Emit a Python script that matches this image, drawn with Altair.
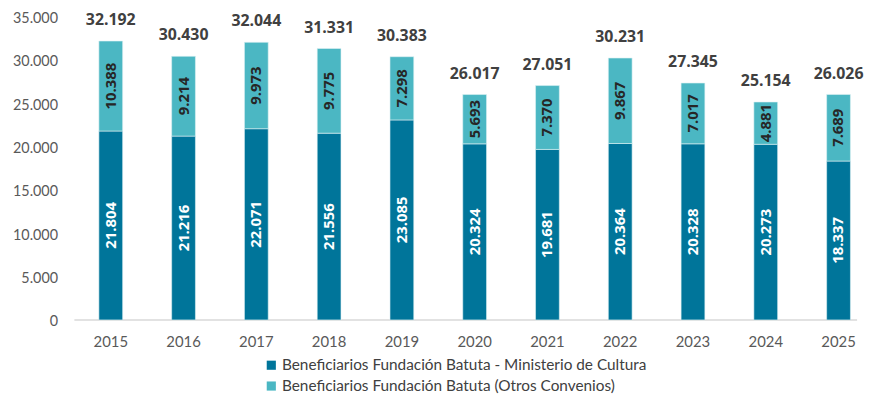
import altair as alt
import pandas as pd

anios = ["2015", "2016", "2017", "2018", "2019", "2020", "2021", "2022", "2023", "2024", "2025"]
ministerio = [21804, 21216, 22071, 21556, 23085, 20324, 19681, 20364, 20328, 20273, 18337]
otros = [10388, 9214, 9973, 9775, 7298, 5693, 7370, 9867, 7017, 4881, 7689]
totales = [32192, 30430, 32044, 31331, 30383, 26017, 27051, 30231, 27345, 25154, 26026]

serie_min = "Beneficiarios Fundación Batuta - Ministerio de Cultura"
serie_otr = "Beneficiarios Fundación Batuta (Otros Convenios)"
colores = ["#00759A", "#4BB7C3"]


def fmt(v):
    return f"{v:,}".replace(",", ".")


rows = []
for a, m, o in zip(anios, ministerio, otros):
    rows.append({"anio": a, "serie": serie_min, "valor": m, "orden": 0, "etiqueta": fmt(m)})
    rows.append({"anio": a, "serie": serie_otr, "valor": o, "orden": 1, "etiqueta": fmt(o)})
df = pd.DataFrame(rows)
df_tot = pd.DataFrame({"anio": anios, "total": totales, "etiqueta": [fmt(t) for t in totales]})

W = 790
H = 306

xscale = alt.Scale(domain=anios, range=[0, 808], paddingInner=0, paddingOuter=0)
yscale = alt.Scale(domain=[0, 35000], nice=False)

x_enc = alt.X("anio:N", scale=xscale, sort=anios,
              axis=alt.Axis(title=None, domain=False, ticks=False, labelAngle=0,
                            labelFont="Lato", labelFontSize=15, labelColor="#595959",
                            labelPadding=15))

base = alt.Chart(df)

bars = base.mark_bar(size=24, stroke="#dff1f4", strokeWidth=0.6).encode(
    x=x_enc,
    y=alt.Y("valor:Q", stack="zero", scale=yscale,
            axis=alt.Axis(title=None, domain=False, ticks=False, grid=False,
                          values=[0, 5000, 10000, 15000, 20000, 25000, 30000, 35000],
                          labelExpr="replace(format(datum.value, ',d'), ',', '.')",
                          labelFont="Lato", labelFontSize=14.5, labelColor="#595959",
                          labelPadding=17, labelOffset=2)),
    color=alt.Color("serie:N", scale=alt.Scale(domain=[serie_min, serie_otr], range=colores),
                    legend=alt.Legend(title=None, orient="none", legendX=191, legendY=344,
                                      direction="vertical", symbolType="square",
                                      symbolSize=85, symbolStrokeWidth=0,
                                      labelFont="Lato", labelFontSize=15.5, labelColor="#404040",
                                      labelLimit=700, rowPadding=4, labelOffset=3,
                                      symbolOffset=0)),
    order=alt.Order("orden:Q", sort="ascending"),
)

inner = base.transform_stack(
    stack="valor", as_=["y0", "y1"], groupby=["anio"], sort=[alt.SortField("orden")]
).transform_calculate(
    mid="(datum.y0 + datum.y1) / 2"
).mark_text(angle=270, font="Open Sans", fontSize=15, fontWeight="bold",
            align="center", baseline="middle").encode(
    x=alt.X("anio:N", scale=xscale, sort=anios),
    y=alt.Y("mid:Q", scale=yscale),
    text="etiqueta:N",
    color=alt.condition("datum.orden == 0", alt.value("white"), alt.value("#262626")),
)

tops = alt.Chart(df_tot).mark_text(font="Open Sans", fontSize=16, fontWeight="bold",
                                   color="#404040", baseline="middle", dy=-21).encode(
    x=alt.X("anio:N", scale=xscale, sort=anios),
    y=alt.Y("total:Q", scale=yscale),
    text="etiqueta:N",
)

baseline = alt.Chart(pd.DataFrame({"cero": [0]})).mark_rule(color="#d9d9d9", strokeWidth=1.5).encode(
    y=alt.Y("cero:Q", scale=yscale),
    x=alt.value(0),
    x2=alt.value(W),
)

chart = alt.layer(baseline, bars, inner, tops).properties(
    width=W, height=H,
    autosize=alt.AutoSizeParams(type="none"),
    padding={"left": 67, "top": 7, "right": 10, "bottom": 74},
).configure_view(stroke=None)

chart.save("out.html", embed_options={"renderer": "svg", "actions": False})
